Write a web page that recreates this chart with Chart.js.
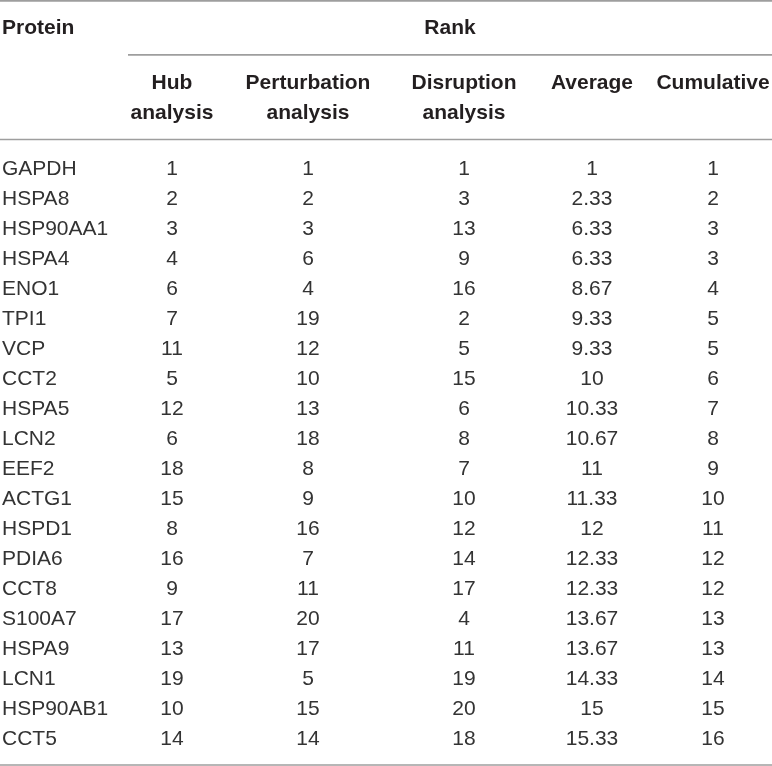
<!DOCTYPE html>
<html>
<head>
<meta charset="utf-8">
<script src="https://cdn.jsdelivr.net/npm/chart.js@4/dist/chart.umd.min.js"></script>
<style>
  html, body { margin: 0; padding: 0; background: #fff; }
  #wrap { width: 772px; height: 766px; position: relative; }
</style>
</head>
<body>
<div id="wrap"><canvas id="rankTable"></canvas></div>
<script>
// table data
const proteins = ["GAPDH", "HSPA8", "HSP90AA1", "HSPA4", "ENO1", "TPI1", "VCP", "CCT2", "HSPA5", "LCN2",
  "EEF2", "ACTG1", "HSPD1", "PDIA6", "CCT8", "S100A7", "HSPA9", "LCN1", "HSP90AB1", "CCT5"];
const hubRank = [1, 2, 3, 4, 6, 7, 11, 5, 12, 6, 18, 15, 8, 16, 9, 17, 13, 19, 10, 14];
const perturbationRank = [1, 2, 3, 6, 4, 19, 12, 10, 13, 18, 8, 9, 16, 7, 11, 20, 17, 5, 15, 14];
const disruptionRank = [1, 3, 13, 9, 16, 2, 5, 15, 6, 8, 7, 10, 12, 14, 17, 4, 11, 19, 20, 18];
const averageRank = [1, 2.33, 6.33, 6.33, 8.67, 9.33, 9.33, 10, 10.33, 10.67, 11, 11.33, 12, 12.33, 12.33,
  13.67, 13.67, 14.33, 15, 15.33];
const cumulativeRank = [1, 2, 3, 3, 4, 5, 5, 6, 7, 8, 9, 10, 11, 12, 12, 13, 13, 14, 15, 16];

const groupTitle = "Rank";
const firstHeader = "Protein";
const columnHeaders = [["Hub", "analysis"], ["Perturbation", "analysis"], ["Disruption", "analysis"], ["Average"], ["Cumulative"]];

// layout (x in px along the x scale, y in row units)
const colX = [2, 172, 308, 464, 592, 713];
const headerY = -3.67;
const subHeaderY = [-1.83, -0.83];
const ruleRows = [
  { y: -4.57, from: 0 },
  { y: -2.77, from: 128 },
  { y: 0.05, from: 0 },
  { y: 20.9, from: 0 },
];

const BOLD = "bold 21px 'Liberation Sans', Arial, sans-serif";
const PLAIN = "21px 'Liberation Sans', Arial, sans-serif";

const columns = [proteins, hubRank, perturbationRank, disruptionRank, averageRank, cumulativeRank];

const datasets = columns.map((col, c) => ({
  label: c === 0 ? firstHeader : columnHeaders[c - 1].join(" "),
  data: col.map((v, i) => ({ x: colX[c], y: i + 1, text: String(v) })),
  pointRadius: 0,
  pointHoverRadius: 0,
}));

const tablePlugin = {
  id: "tableText",
  afterDatasetsDraw(chart) {
    const { ctx, scales } = chart;
    const xs = scales.x, ys = scales.y;
    ctx.save();

    // rules
    ctx.strokeStyle = "#9e9e9e";
    ctx.lineWidth = 1.6;
    ruleRows.forEach((r) => {
      const py = ys.getPixelForValue(r.y);
      ctx.beginPath();
      ctx.moveTo(xs.getPixelForValue(r.from), py);
      ctx.lineTo(xs.getPixelForValue(772), py);
      ctx.stroke();
    });

    // headers
    ctx.fillStyle = "#231f20";
    ctx.font = BOLD;
    ctx.textBaseline = "middle";
    ctx.textAlign = "left";
    ctx.fillText(firstHeader, xs.getPixelForValue(colX[0]), ys.getPixelForValue(headerY));
    ctx.textAlign = "center";
    ctx.fillText(groupTitle, xs.getPixelForValue((128 + 772) / 2), ys.getPixelForValue(headerY));
    columnHeaders.forEach((lines, c) => {
      lines.forEach((line, k) => {
        ctx.fillText(line, xs.getPixelForValue(colX[c + 1]), ys.getPixelForValue(subHeaderY[k]));
      });
    });

    // body cells
    ctx.font = PLAIN;
    ctx.fillStyle = "#333333";
    chart.data.datasets.forEach((ds, c) => {
      const meta = chart.getDatasetMeta(c);
      ctx.textAlign = c === 0 ? "left" : "center";
      meta.data.forEach((pt, i) => {
        ctx.fillText(ds.data[i].text, pt.x, pt.y + 1);
      });
    });
    ctx.restore();
  },
};

new Chart(document.getElementById("rankTable").getContext("2d"), {
  type: "scatter",
  data: { datasets },
  options: {
    responsive: true,
    maintainAspectRatio: false,
    animation: false,
    layout: { padding: 0 },
    plugins: { legend: { display: false }, tooltip: { enabled: false } },
    scales: {
      x: { type: "linear", min: 0, max: 772, display: false },
      y: { type: "linear", min: -4.6, max: 20.933, reverse: true, display: false },
    },
  },
  plugins: [tablePlugin],
});
</script>
</body>
</html>
